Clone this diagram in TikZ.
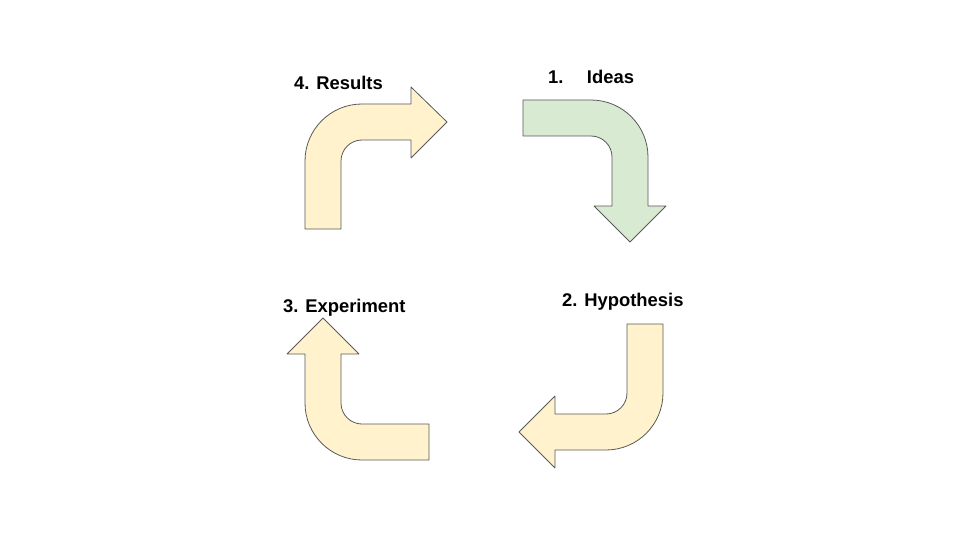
\documentclass[tikz,border=0pt]{standalone}
\usepackage{fontspec}
\setmainfont{Liberation Sans}
\usetikzlibrary{positioning}
\definecolor{paleyellow}{HTML}{FFF2CC}
\definecolor{palegreen}{HTML}{D9EAD3}
\definecolor{edgegray}{HTML}{595959}

\begin{document}
\begin{tikzpicture}[x=1pt,y=1pt,
        bent/.style={draw=edgegray,line width=0.8pt,line join=round},
        stage/.style={anchor=base west,inner sep=0pt,
          font=\fontsize{18.4}{22}\selectfont\bfseries}]
        \useasboundingbox (0,0) rectangle (960,-540);
        % 1. Ideas (green)
        \draw[bent,fill=palegreen] (523,-100) -- (591,-100) arc (90:0:57)
          -- (648,-206) -- (666,-206) -- (630,-242) -- (594,-206) -- (612,-206)
          -- (612,-157) arc (0:90:21) -- (523,-136) -- cycle;
        % 2. Hypothesis
        \draw[bent,fill=paleyellow] (663,-324) -- (663,-393) arc (0:-90:57)
          -- (555,-450) -- (555,-468) -- (519,-432) -- (555,-396) -- (555,-414)
          -- (606,-414) arc (-90:0:21) -- (627,-324) -- cycle;
        % 3. Experiment
        \draw[bent,fill=paleyellow] (429,-460) -- (362,-460) arc (270:180:57)
          -- (305,-354) -- (287,-354) -- (323,-318) -- (359,-354) -- (341,-354)
          -- (341,-403) arc (180:270:21) -- (429,-424) -- cycle;
        % 4. Results
        \draw[bent,fill=paleyellow] (305,-229) -- (305,-161) arc (180:90:57)
          -- (411,-104) -- (411,-87) -- (447,-122) -- (411,-158) -- (411,-140)
          -- (362,-140) arc (90:180:21) -- (341,-229) -- cycle;
        % labels
        \node[stage] (ideas) at (548,-84) {1.\hspace{23.4pt}Ideas};
        \node[stage] (hypothesis) at (562,-306.5) {2. Hypothesis};
        \node[stage] (experiment) at (283,-312) {3. Experiment};
        \node[stage] (results) at (294,-90) {4. Results};
      \end{tikzpicture}
\end{document}
